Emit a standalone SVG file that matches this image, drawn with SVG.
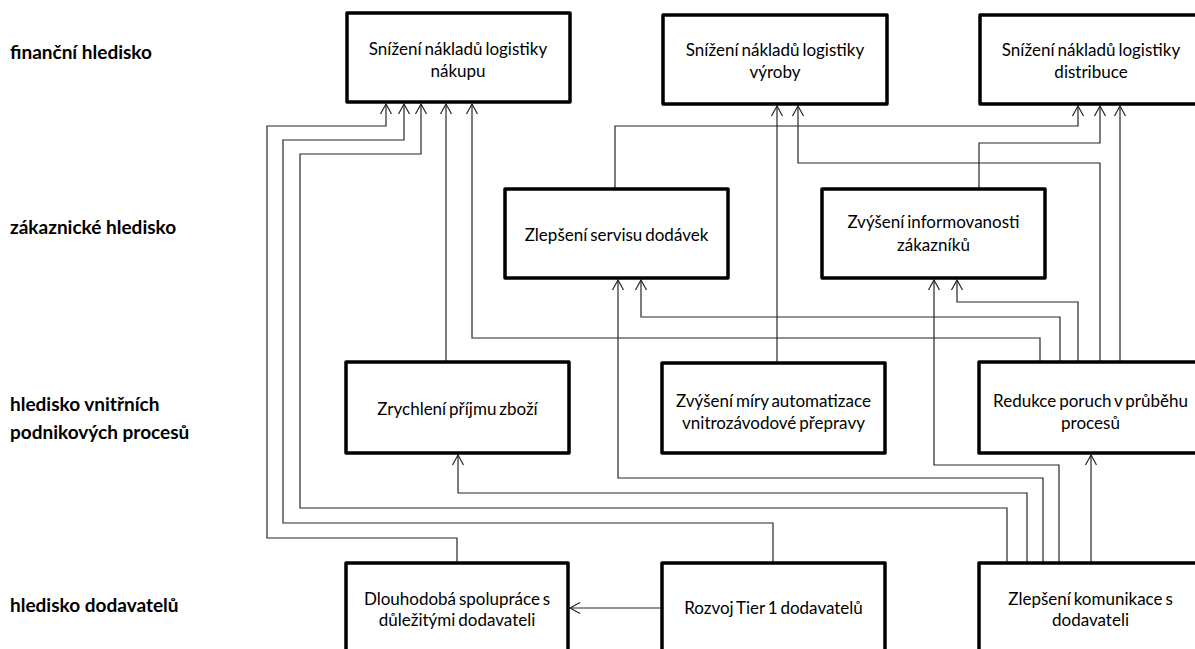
<svg xmlns="http://www.w3.org/2000/svg" width="1195" height="649" viewBox="0 0 1195 649">
  <style>
    .box { fill: #ffffff; stroke: #000000; stroke-width: 3.5; stroke-linejoin: round; }
    .t { font-family: Lato, "Liberation Sans", sans-serif; font-size: 17px; fill: #000000; text-anchor: middle; word-spacing: -1.5px; }
    .lbl { font-family: Lato, "Liberation Sans", sans-serif; font-size: 19px; font-weight: bold; fill: #000000; }
    .c { fill: none; stroke: #262626; stroke-width: 1.2; marker-end: url(#arr); }
  </style>
  <defs>
    <marker id="arr" markerUnits="userSpaceOnUse" markerWidth="14" markerHeight="14" refX="0" refY="0" viewBox="-12 -7 14 14" orient="auto" overflow="visible">
      <path d="M-10,-5.5 L0,0 L-10,5.5" fill="none" stroke="#262626" stroke-width="1.2"/>
    </marker>
  </defs>
  <rect width="1195" height="649" fill="#ffffff"/>

  <g id="labels">
    <text class="lbl" x="10" y="59">finanční hledisko</text>
    <text class="lbl" x="10" y="234">zákaznické hledisko</text>
    <text class="lbl" x="10" y="411">hledisko vnitřních</text>
    <text class="lbl" x="10" y="439">podnikových procesů</text>
    <text class="lbl" x="10" y="612">hledisko dodavatelů</text>
  </g>

  <g id="connectors">
    <path class="c" d="M457,563 V538 H267 V126 H386 V104"/>
    <path class="c" d="M773,563 V523 H283 V140 H404 V104"/>
    <path class="c" d="M1007,563 V508 H300 V154 H421 V104"/>
    <path class="c" d="M446,362 V104"/>
    <path class="c" d="M1040,362 V338 H472 V104"/>
    <path class="c" d="M777,363 V106"/>
    <path class="c" d="M1100,362 V163 H798 V106"/>
    <path class="c" d="M615,189 V126 H1078 V106"/>
    <path class="c" d="M979,189 V143 H1100 V106"/>
    <path class="c" d="M1120,362 V106"/>
    <path class="c" d="M1060,362 V317 H641 V280"/>
    <path class="c" d="M1043,563 V478 H618 V280"/>
    <path class="c" d="M1078,362 V302 H957 V280"/>
    <path class="c" d="M1059,563 V465 H934 V280"/>
    <path class="c" d="M1027,563 V493 H458 V455"/>
    <path class="c" d="M1091,563 V455"/>
    <path class="c" d="M662,608 H570"/>
  </g>

  <g id="n1">
    <rect class="box" x="347" y="13" width="223" height="89"/>
    <text class="t" x="458" y="55">Snížení nákladů logistiky</text>
    <text class="t" x="458" y="77">nákupu</text>
  </g>
  <g id="n2">
    <rect class="box" x="663" y="15" width="224" height="89"/>
    <text class="t" x="775" y="56">Snížení nákladů logistiky</text>
    <text class="t" x="775" y="78">výroby</text>
  </g>
  <g id="n3">
    <rect class="box" x="980" y="15" width="223" height="89"/>
    <text class="t" x="1091" y="56">Snížení nákladů logistiky</text>
    <text class="t" x="1091" y="78">distribuce</text>
  </g>
  <g id="n4">
    <rect class="box" x="505" y="189" width="223" height="89"/>
    <text class="t" x="616.5" y="241">Zlepšení servisu dodávek</text>
  </g>
  <g id="n5">
    <rect class="box" x="822" y="189" width="223" height="89"/>
    <text class="t" x="933.5" y="228">Zvýšení informovanosti</text>
    <text class="t" x="933.5" y="251">zákazníků</text>
  </g>
  <g id="n6">
    <rect class="box" x="346" y="362" width="223" height="91"/>
    <text class="t" x="457.5" y="415">Zrychlení příjmu zboží</text>
  </g>
  <g id="n7">
    <rect class="box" x="662" y="363" width="223" height="90"/>
    <text class="t" x="773.5" y="407">Zvýšení míry automatizace</text>
    <text class="t" x="773.5" y="429">vnitrozávodové přepravy</text>
  </g>
  <g id="n8">
    <rect class="box" x="979" y="362" width="223" height="91"/>
    <text class="t" x="1090.5" y="407">Redukce poruch v průběhu</text>
    <text class="t" x="1090.5" y="429">procesů</text>
  </g>
  <g id="n9">
    <rect class="box" x="346" y="563" width="222" height="95"/>
    <text class="t" x="457" y="605">Dlouhodobá spolupráce s</text>
    <text class="t" x="457" y="626">důležitými dodavateli</text>
  </g>
  <g id="n10">
    <rect class="box" x="662" y="563" width="223" height="95"/>
    <text class="t" x="773.5" y="614">Rozvoj Tier 1 dodavatelů</text>
  </g>
  <g id="n11">
    <rect class="box" x="979" y="563" width="223" height="95"/>
    <text class="t" x="1090.5" y="605">Zlepšení komunikace s</text>
    <text class="t" x="1090.5" y="626">dodavateli</text>
  </g>
</svg>
